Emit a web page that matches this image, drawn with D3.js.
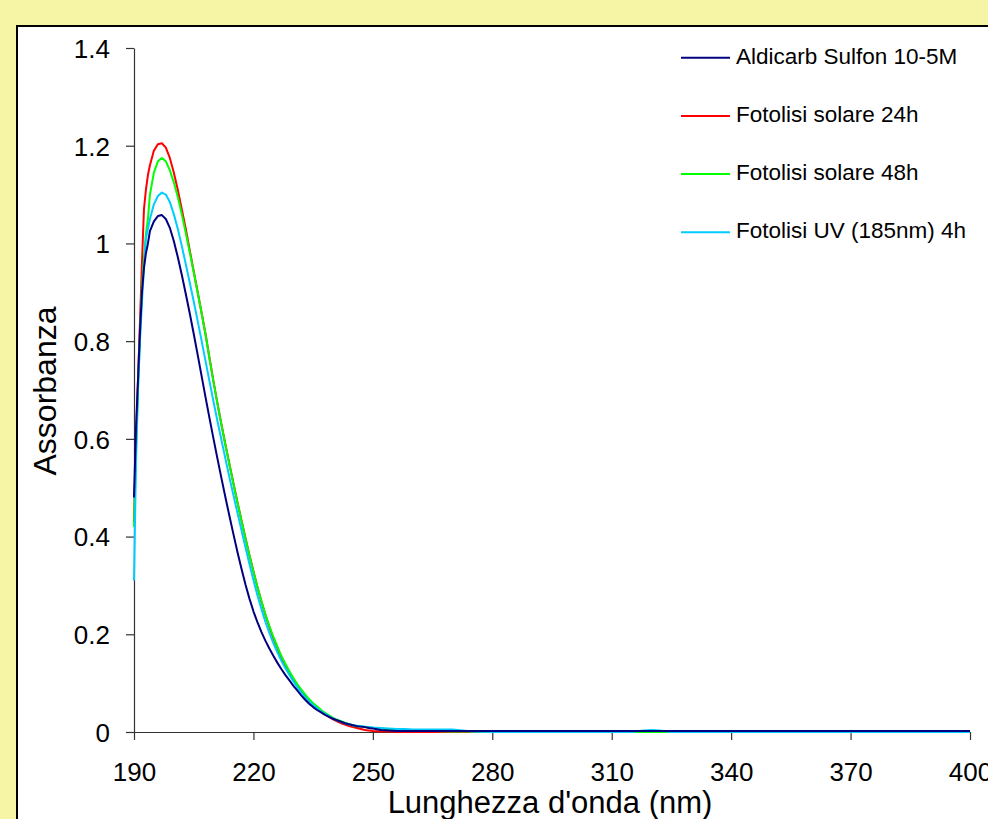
<!DOCTYPE html>
<html>
<head>
<meta charset="utf-8">
<script src="https://cdn.jsdelivr.net/npm/d3@7"></script>
<style>
  html, body { margin: 0; padding: 0; background: #F6F5A6; }
  svg { display: block; }
  text { font-family: Arial, "Liberation Sans", sans-serif; fill: #000; }
</style>
</head>
<body>
<svg id="chart" width="988" height="819"></svg>
<script>
// Wavelength grid (nm), shared by all spectra
const wavelengths = [
  190, 190.5, 191, 191.5, 192, 192.5, 193, 193.5, 194,
  195, 196, 197, 198, 199, 200, 201, 202, 203, 204, 205, 206, 207, 208, 209,
  210, 211, 212, 213, 214, 215, 216, 217, 218, 219, 220, 221, 222, 223, 224,
  225, 226, 227, 228, 229, 230, 231, 232, 233, 234, 235, 236, 237, 238, 239,
  240, 241, 242, 243, 244, 245, 246, 247, 248, 249, 250,
  252, 254, 256, 258, 260, 265, 270, 275, 280, 290, 300, 310,
  315, 318, 320, 322, 325, 330, 340, 350, 360, 370, 380, 390, 400
];

// Absorbance values for each sample
const aldicarb = [
  0.48, 0.62, 0.72, 0.82, 0.90, 0.95, 0.98, 1.00, 1.025,
  1.045, 1.056, 1.058, 1.05, 1.032, 1.005, 0.972, 0.936, 0.897, 0.857, 0.815, 0.772, 0.728, 0.684, 0.641,
  0.599, 0.558, 0.518, 0.479, 0.441, 0.404, 0.368, 0.334, 0.302, 0.273, 0.247, 0.225, 0.205, 0.187, 0.171,
  0.156, 0.142, 0.129, 0.117, 0.106, 0.095, 0.085, 0.075, 0.066, 0.058, 0.051, 0.045, 0.040, 0.035, 0.031,
  0.027, 0.024, 0.021, 0.018, 0.016, 0.014, 0.012, 0.011, 0.010, 0.008, 0.007,
  0.004, 0.003, 0.002, 0.002, 0.002, 0.002, 0.002, 0.002, 0.002, 0.002, 0.002, 0.002,
  0.002, 0.002, 0.002, 0.002, 0.002, 0.002, 0.002, 0.002, 0.002, 0.002, 0.002, 0.002, 0.002
];
const solare24h = [
  0.43, 0.60, 0.72, 0.84, 0.96, 1.07, 1.11, 1.14, 1.16,
  1.19, 1.203, 1.205, 1.196, 1.175, 1.145, 1.11, 1.07, 1.03, 0.986, 0.943, 0.90, 0.857, 0.813, 0.764,
  0.716, 0.671, 0.628, 0.587, 0.547, 0.508, 0.47, 0.433, 0.397, 0.362, 0.329, 0.297, 0.267, 0.24, 0.215,
  0.192, 0.172, 0.153, 0.137, 0.122, 0.108, 0.096, 0.085, 0.074, 0.064, 0.056, 0.049, 0.042, 0.036, 0.031,
  0.026, 0.022, 0.018, 0.015, 0.012, 0.010, 0.008, 0.006, 0.004, 0.003, 0.002,
  0.001, 0.001, 0, 0, 0, 0, 0, 0, 0, 0, 0, 0,
  0, 0, 0, 0, 0, 0, 0, 0, 0, 0, 0, 0, 0
];
const solare48h = [
  0.42, 0.58, 0.70, 0.81, 0.91, 0.97, 1.02, 1.05, 1.10,
  1.145, 1.168, 1.175, 1.168, 1.15, 1.125, 1.095, 1.06, 1.022, 0.982, 0.941, 0.899, 0.856, 0.812, 0.762,
  0.715, 0.67, 0.627, 0.586, 0.546, 0.507, 0.469, 0.432, 0.396, 0.361, 0.328, 0.297, 0.268, 0.241, 0.217,
  0.195, 0.175, 0.156, 0.14, 0.125, 0.111, 0.098, 0.087, 0.077, 0.067, 0.059, 0.052, 0.045, 0.039, 0.034,
  0.029, 0.025, 0.022, 0.019, 0.016, 0.014, 0.012, 0.011, 0.010, 0.009, 0.008,
  0.007, 0.005, 0.004, 0.003, 0.002, 0.002, 0.001, 0.001, 0, 0, 0, 0,
  0, 0, 0, 0, 0, 0, 0, 0, 0, 0, 0, 0, 0
];
const uv185 = [
  0.31, 0.55, 0.70, 0.80, 0.88, 0.95, 1.01, 1.03, 1.05,
  1.08, 1.097, 1.104, 1.10, 1.085, 1.06, 1.03, 0.995, 0.958, 0.92, 0.881, 0.841, 0.80, 0.758, 0.716,
  0.675, 0.635, 0.596, 0.558, 0.52, 0.484, 0.448, 0.413, 0.378, 0.344, 0.311, 0.28, 0.252, 0.226, 0.203,
  0.182, 0.163, 0.146, 0.131, 0.117, 0.104, 0.092, 0.081, 0.071, 0.062, 0.055, 0.048, 0.042, 0.037, 0.032,
  0.028, 0.024, 0.021, 0.018, 0.016, 0.014, 0.013, 0.012, 0.011, 0.010, 0.009,
  0.008, 0.007, 0.006, 0.006, 0.005, 0.005, 0.005, 0.001, 0, 0, 0, 0,
  0, 0.003, 0.004, 0.003, 0, 0, 0, 0, 0, 0, 0, 0, 0
];

const seriesNames = [
  "Aldicarb Sulfon 10-5M",
  "Fotolisi solare 24h",
  "Fotolisi solare 48h",
  "Fotolisi UV (185nm) 4h"
];
const seriesColors = ["#000080", "#FF0000", "#00FF00", "#00CCFF"];
const seriesValues = [aldicarb, solare24h, solare48h, uv185];

const xTicks = [190, 220, 250, 280, 310, 340, 370, 400];
const yTicks = [0, 0.2, 0.4, 0.6, 0.8, 1, 1.2, 1.4];
const yTickLabels = ["0", "0.2", "0.4", "0.6", "0.8", "1", "1.2", "1.4"];

const xTitle = "Lunghezza d'onda (nm)";
const yTitle = "Assorbanza";

const svg = d3.select("#chart");

// White chart area with dark border, running past the right and bottom edges
svg.append("rect")
  .attr("x", 17).attr("y", 26)
  .attr("width", 1000).attr("height", 900)
  .attr("fill", "#FFFFFF")
  .attr("stroke", "#000").attr("stroke-width", 2);

const x = d3.scaleLinear().domain([190, 400]).range([134, 970]);
const y = d3.scaleLinear().domain([0, 1.4]).range([732, 48]);

// Axes
const xAxis = d3.axisBottom(x)
  .tickValues(xTicks)
  .tickFormat(d3.format("d"))
  .tickSize(8).tickSizeOuter(0).tickPadding(23);
const yAxis = d3.axisLeft(y)
  .tickValues(yTicks)
  .tickFormat((d, i) => yTickLabels[i])
  .tickSize(8).tickSizeOuter(0).tickPadding(16);

const gx = svg.append("g").attr("transform", "translate(0,732)").call(xAxis);
const gy = svg.append("g").attr("transform", "translate(134,0)").call(yAxis);

[gx, gy].forEach(g => {
  g.select(".domain").attr("stroke", "#333").attr("stroke-width", 1.2);
  g.selectAll(".tick line").attr("stroke", "#333").attr("stroke-width", 1.2);
  g.selectAll(".tick text")
    .attr("fill", "#000")
    .style("font-family", "Arial, 'Liberation Sans', sans-serif")
    .style("font-size", "26px");
});
gy.selectAll(".tick text").attr("dy", "0.36em");

// Spectra: 24h, 48h, UV, then the reference sample on top
const line = d3.line()
  .x((d, i) => x(wavelengths[i]))
  .y(d => y(d));

const drawOrder = [1, 2, 3, 0];
drawOrder.forEach(k => {
  svg.append("path")
    .datum(seriesValues[k])
    .attr("fill", "none")
    .attr("stroke", seriesColors[k])
    .attr("stroke-width", 2)
    .attr("stroke-linejoin", "round")
    .attr("d", line);
});

// Legend
const legend = svg.append("g").attr("transform", "translate(681,57.7)");
seriesNames.forEach((name, i) => {
  const row = legend.append("g").attr("transform", `translate(0,${i * 58.2})`);
  row.append("line")
    .attr("x1", 0).attr("x2", 49)
    .attr("y1", 0).attr("y2", 0)
    .attr("stroke", seriesColors[i]).attr("stroke-width", 2);
  row.append("text")
    .attr("x", 55).attr("y", 5.8)
    .style("font-size", "22.5px")
    .text(name);
});

// Axis titles
svg.append("text")
  .attr("x", 550).attr("y", 813)
  .attr("text-anchor", "middle")
  .style("font-size", "31px")
  .text(xTitle);

svg.append("text")
  .attr("transform", "translate(56,391) rotate(-90)")
  .attr("text-anchor", "middle")
  .style("font-size", "32px")
  .text(yTitle);
</script>
</body>
</html>
